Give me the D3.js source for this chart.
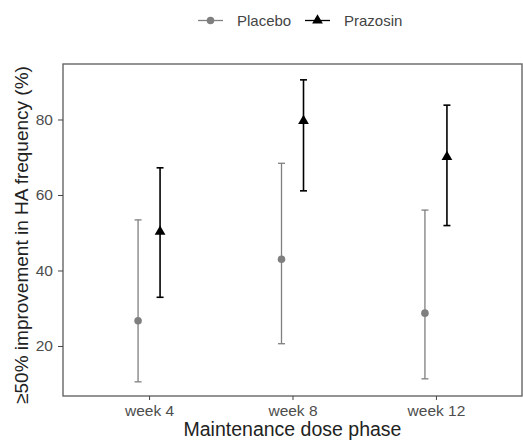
<!DOCTYPE html>
<html>
<head>
<meta charset="utf-8">
<script src="https://cdn.jsdelivr.net/npm/d3@7"></script>
<style>
  body { margin: 0; background: #fff; }
  text { font-family: "Liberation Sans", Arial, sans-serif; }
</style>
</head>
<body>
<div id="chart"></div>
<script>
(function(){
    // data
    var weeks      = ['week 4', 'week 8', 'week 12'];
    var groups     = ['Placebo', 'Prazosin'];
    var placeboMid = [26.7, 43.0, 28.7];
    var placeboLo  = [10.5, 20.6, 11.3];
    var placeboHi  = [53.4, 68.4, 56.0];
    var prazMid    = [50.3, 79.6, 70.1];
    var prazLo     = [32.9, 61.1, 51.9];
    var prazHi     = [67.2, 90.5, 83.8];
    var yTicks     = [20, 40, 60, 80];

    var WIDTH  = 523,
        HEIGHT = 442,
        LEFT   = 63,
        RIGHT  = 522,
        TOP    = 64,
        BOTTOM = 396,
        DODGE  = 11,
        CAP    = 3.5;

    var COLORS = { Placebo: '#7f7f7f', Prazosin: '#000000' };

    var rows = [];
    weeks.forEach(function(w, i){
        rows.push({ week: w, group: 'Placebo',  mid: placeboMid[i], lo: placeboLo[i], hi: placeboHi[i] });
        rows.push({ week: w, group: 'Prazosin', mid: prazMid[i],    lo: prazLo[i],    hi: prazHi[i] });
    });

    var svg = d3.select('#chart').append('svg')
        .attr('width', WIDTH)
        .attr('height', HEIGHT);

    var x = d3.scalePoint().domain(weeks).range([LEFT, RIGHT]).padding(0.6);
    var y = d3.scaleLinear().domain([6.75, 94.7]).range([BOTTOM, TOP]);
    var off = d3.scalePoint().domain(groups).range([-DODGE, DODGE]);

    // panel border
    svg.append('rect')
        .attr('x', LEFT).attr('y', TOP)
        .attr('width', RIGHT - LEFT).attr('height', BOTTOM - TOP)
        .attr('fill', 'none').attr('stroke', '#666').attr('stroke-width', 1.4);

    // axes
    var yAxis = svg.append('g')
        .attr('transform', 'translate(' + LEFT + ',0)')
        .call(d3.axisLeft(y).tickValues(yTicks).tickSize(5).tickPadding(5));
    var xAxis = svg.append('g')
        .attr('transform', 'translate(0,' + BOTTOM + ')')
        .call(d3.axisBottom(x).tickSize(4).tickPadding(5));
    [xAxis, yAxis].forEach(function(g){
        g.select('.domain').remove();
        g.selectAll('.tick line').attr('stroke', '#444');
        g.selectAll('.tick text').attr('fill', '#4d4d4d').style('font-size', '15.5px');
    });

    // error bars
    var bars = svg.selectAll('g.bar').data(rows).enter().append('g')
        .attr('class', 'bar')
        .attr('transform', function(d){ return 'translate(' + (x(d.week) + off(d.group)) + ',0)'; })
        .attr('stroke', function(d){ return COLORS[d.group]; })
        .attr('stroke-width', function(d){ return d.group === 'Prazosin' ? 1.6 : 1.3; });
    bars.append('line').attr('x1', 0).attr('x2', 0)
        .attr('y1', function(d){ return y(d.lo); })
        .attr('y2', function(d){ return y(d.hi); });
    bars.append('line').attr('x1', -CAP).attr('x2', CAP)
        .attr('y1', function(d){ return y(d.lo); })
        .attr('y2', function(d){ return y(d.lo); });
    bars.append('line').attr('x1', -CAP).attr('x2', CAP)
        .attr('y1', function(d){ return y(d.hi); })
        .attr('y2', function(d){ return y(d.hi); });

    // points
    var circ = d3.symbol().type(d3.symbolCircle).size(45);
    var tri  = d3.symbol().type(d3.symbolTriangle).size(50);
    svg.selectAll('path.pt').data(rows).enter().append('path')
        .attr('class', 'pt')
        .attr('d', function(d){ return d.group === 'Prazosin' ? tri() : circ(); })
        .attr('fill', function(d){ return COLORS[d.group]; })
        .attr('transform', function(d){
            return 'translate(' + (x(d.week) + off(d.group)) + ',' + y(d.mid) + ')';
        });

    // legend
    var legendX = { Placebo: 198, Prazosin: 305 };
    var lg = svg.selectAll('g.lg').data(groups).enter().append('g')
        .attr('class', 'lg')
        .attr('transform', function(d){ return 'translate(' + legendX[d] + ',20.5)'; });
    lg.append('line').attr('x1', 0).attr('x2', 25).attr('y1', 0).attr('y2', 0)
        .attr('stroke', function(d){ return COLORS[d]; }).attr('stroke-width', 1.3);
    lg.append('path')
        .attr('d', function(d){ return d === 'Prazosin' ? tri() : circ(); })
        .attr('fill', function(d){ return COLORS[d]; })
        .attr('transform', 'translate(12.5,0)');
    lg.append('text').attr('x', 39).attr('y', 0).attr('dy', '0.35em')
        .attr('fill', '#444').style('font-size', '15px')
        .text(function(d){ return d; });

    // axis titles
    svg.append('text')
        .attr('x', (LEFT + RIGHT) / 2).attr('y', 436)
        .attr('text-anchor', 'middle').attr('fill', '#222')
        .style('font-size', '19.5px')
        .text('Maintenance dose phase');
    svg.append('text')
        .attr('transform', 'translate(28,235) rotate(-90)')
        .attr('text-anchor', 'middle').attr('fill', '#222')
        .style('font-size', '19px')
        .text('≥50% improvement in HA frequency (%)');
})();
</script>
</body>
</html>
